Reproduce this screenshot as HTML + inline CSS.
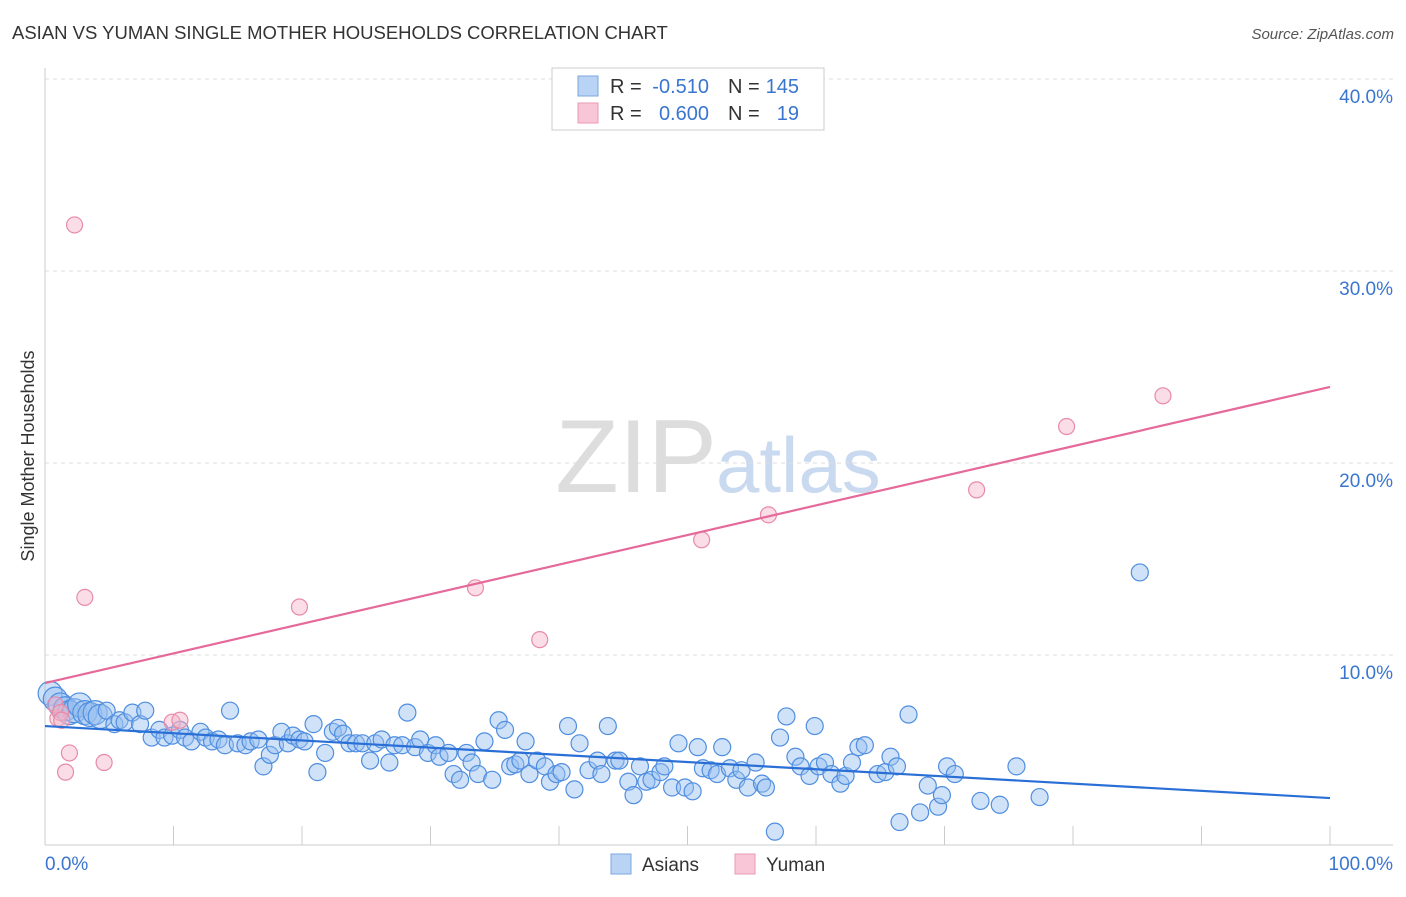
<!DOCTYPE html>
<html><head><meta charset="utf-8"><style>
body{margin:0;background:#fff;font-family:"Liberation Sans",sans-serif}
svg text{font-family:"Liberation Sans",sans-serif}
</style></head><body>
<svg id="c" width="1406" height="892">
<text x="12" y="39" font-size="18.5" fill="#333">ASIAN VS YUMAN SINGLE MOTHER HOUSEHOLDS CORRELATION CHART</text>
<text x="1394" y="39" font-size="15" fill="#555" font-style="italic" text-anchor="end">Source: ZipAtlas.com</text>
<text x="717" y="492" font-size="104" fill="#ddd" font-family="Liberation Serif" text-anchor="end">ZIP</text>
<text x="716" y="492" font-size="78" fill="#c9d9ef">atlas</text>
<text transform="translate(34,456) rotate(-90)" font-size="18" fill="#333" text-anchor="middle">Single Mother Households</text>
<g id="grid"></g><g id="marks"></g>
<g>
<rect x="552" y="68" width="272" height="62" fill="#fff" stroke="#ccc"/>
<rect x="578" y="76" width="20" height="20" fill="#b9d3f5" stroke="#7aa7e0"/>
<rect x="578" y="103" width="20" height="20" fill="#f8c6d6" stroke="#eb9ab5"/>
<text x="610" y="93" font-size="20" fill="#333">R =</text>
<text x="709" y="93" font-size="20" fill="#3a75d0" text-anchor="end">-0.510</text>
<text x="728" y="93" font-size="20" fill="#333">N =</text>
<text x="799" y="93" font-size="20" fill="#3a75d0" text-anchor="end">145</text>
<text x="610" y="120" font-size="20" fill="#333">R =</text>
<text x="709" y="120" font-size="20" fill="#3a75d0" text-anchor="end">0.600</text>
<text x="728" y="120" font-size="20" fill="#333">N =</text>
<text x="799" y="120" font-size="20" fill="#3a75d0" text-anchor="end">19</text>
</g>
<g>
<rect x="611" y="854" width="20" height="20" fill="#b9d3f5" stroke="#7aa7e0"/>
<text x="642" y="871" font-size="19" fill="#333">Asians</text>
<rect x="735" y="854" width="20" height="20" fill="#f8c6d6" stroke="#eb9ab5"/>
<text x="766" y="871" font-size="19" fill="#333">Yuman</text>
</g>
</svg>
<script>
const yTicks=[10,20,30,40];
const xTickLabels=["0.0%","100.0%"];
const asianX=[0.4,0.8,1.2,1.6,1.9,2.3,2.7,3.1,3.5,3.9,4.3,4.8,5.4,5.8,6.2,6.8,7.4,7.8,8.3,8.9,9.3,9.9,10.5,10.9,11.4,12.1,12.5,13.0,13.5,14.0,14.4,15.0,15.6,16.0,16.6,17.0,17.5,17.9,18.4,18.9,19.3,19.8,20.2,20.9,21.2,21.8,22.4,22.8,23.2,23.7,24.2,24.7,25.3,25.7,26.2,26.8,27.2,27.8,28.2,28.8,29.2,29.8,30.4,30.7,31.4,31.8,32.3,32.8,33.2,33.7,34.2,34.8,35.3,35.8,36.2,36.6,37.0,37.4,37.7,38.3,38.9,39.3,39.8,40.2,40.7,41.2,41.6,42.3,43.0,43.3,43.8,44.4,44.7,45.4,45.8,46.3,46.8,47.2,47.9,48.2,48.8,49.3,49.8,50.4,50.8,51.2,51.8,52.3,52.7,53.3,53.8,54.2,54.7,55.3,55.8,56.1,56.8,57.2,57.7,58.4,58.8,59.5,59.9,60.2,60.7,61.2,61.9,62.3,62.8,63.3,63.8,64.8,65.4,65.8,66.3,66.5,67.2,68.1,68.7,69.5,69.8,70.2,70.8,72.8,74.3,75.6,77.4,85.2];
const asianY=[8.0,7.7,7.4,7.2,7.0,7.1,7.4,7.0,6.9,7.0,6.8,7.1,6.4,6.6,6.5,7.0,6.4,7.1,5.7,6.1,5.7,5.8,6.1,5.7,5.5,6.0,5.7,5.5,5.6,5.3,7.1,5.4,5.3,5.5,5.6,4.2,4.8,5.3,6.0,5.4,5.8,5.6,5.5,6.4,3.9,4.9,6.0,6.2,5.9,5.4,5.4,5.4,4.5,5.4,5.6,4.4,5.3,5.3,7.0,5.2,5.6,4.9,5.3,4.7,4.9,3.8,3.5,4.9,4.4,3.8,5.5,3.5,6.6,6.1,4.2,4.3,4.5,5.5,3.8,4.5,4.2,3.4,3.8,3.9,6.3,3.0,5.4,4.0,4.5,3.8,6.3,4.5,4.5,3.4,2.7,4.2,3.4,3.5,3.9,4.2,3.1,5.4,3.1,2.9,5.2,4.1,4.0,3.8,5.2,4.1,3.5,4.0,3.1,4.4,3.3,3.1,0.8,5.7,6.8,4.7,4.2,3.7,6.3,4.2,4.4,3.8,3.3,3.7,4.4,5.2,5.3,3.8,3.9,4.7,4.2,1.3,6.9,1.8,3.2,2.1,2.7,4.2,3.8,2.4,2.2,4.2,2.6,14.3];
const yumanX=[2.3,3.1,1.9,1.6,4.6,1.0,0.8,9.9,10.5,19.8,33.5,38.5,51.1,56.3,72.5,79.5,87.0,1.2,1.3];
const yumanY=[32.4,13.0,4.9,3.9,4.4,6.7,7.4,6.5,6.6,12.5,13.5,10.8,16.0,17.3,18.6,21.9,23.5,7.0,6.6];
const asianLine=[6.3,2.55];
const yumanLine=[8.54,23.96];
const X0=45,X1=1330,YB=847,PPU=19.2;
const sx=v=>X0+(X1-X0)*v/100, sy=v=>YB-v*PPU;
const NS="http://www.w3.org/2000/svg";
function mk(parent,tag,attrs){const e=document.createElementNS(NS,tag);for(const k in attrs)e.setAttribute(k,attrs[k]);parent.appendChild(e);return e;}
const g=document.getElementById('grid'), m=document.getElementById('marks');
yTicks.forEach(t=>{
 const l=mk(g,'line',{x1:45,x2:1393,y1:sy(t),y2:sy(t),stroke:'#ddd','stroke-dasharray':'4,4'});
 
 
 const tx=mk(g,'text',{x:1393,y:sy(t)+24,'font-size':19,fill:'#3a75d0','text-anchor':'end'});tx.textContent=t.toFixed(1)+'%';
 
 
});
const ax=mk(g,'line',{x1:45,x2:1393,y1:845,y2:845,stroke:'#ccc'});


const ay=mk(g,'line',{x1:45,x2:45,y1:68,y2:845,stroke:'#ccc'});


for(let i=1;i<=10;i++){const t=mk(g,'line',{x1:sx(i*10),x2:sx(i*10),y1:826,y2:845,stroke:'#ccc'});
 
 }
const xl0=mk(g,'text',{x:45,y:870,'font-size':19,fill:'#3a75d0'});xl0.textContent=xTickLabels[0];


const xl1=mk(g,'text',{x:1393,y:870,'font-size':19,fill:'#3a75d0','text-anchor':'end'});xl1.textContent=xTickLabels[1];


asianX.forEach((x,i)=>{const c=mk(m,'circle',{cx:sx(x),cy:sy(asianY[i]),r:i<11?12:8.5,fill:'rgba(150,190,240,0.45)',stroke:'#4f8ee0','stroke-width':1.2});
 
 });
yumanX.forEach((x,i)=>{const c=mk(m,'circle',{cx:sx(x),cy:sy(yumanY[i]),r:8,fill:'rgba(245,180,200,0.45)',stroke:'#e88aa8','stroke-width':1.2});
 
 });
const l1=mk(m,'line',{x1:sx(0),x2:sx(100),y1:sy(asianLine[0]),y2:sy(asianLine[1]),stroke:'#2a6fd6','stroke-width':2.2});


const l2=mk(m,'line',{x1:sx(0),x2:sx(100),y1:sy(yumanLine[0]),y2:sy(yumanLine[1]),stroke:'#e5699a','stroke-width':2.2});


</script>
</body></html>
